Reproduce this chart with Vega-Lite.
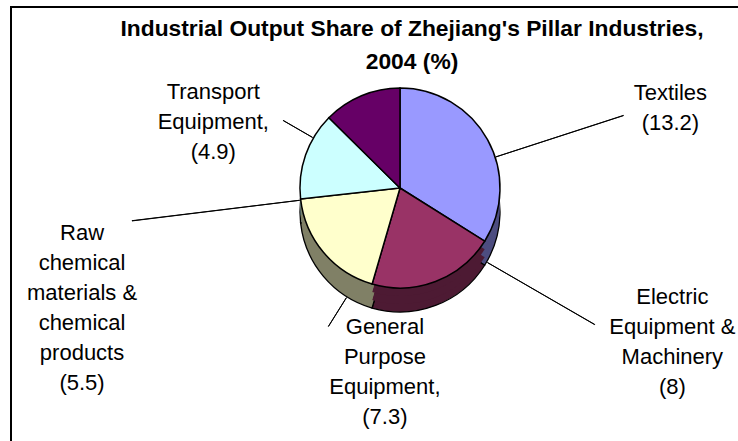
{
  "$schema": "https://vega.github.io/schema/vega-lite/v6.json",
  "width": 802,
  "height": 440,
  "autosize": {"type": "none"},
  "padding": {"left": 11, "top": 7, "right": 0, "bottom": 0},
  "background": "white",
  "config": {"view": {"stroke": null}},
  "title": {
    "text": ["Industrial Output Share of Zhejiang's Pillar Industries,", "2004 (%)"],
    "anchor": "middle",
    "frame": "group",
    "font": "Liberation Sans",
    "fontSize": 22.8,
    "fontWeight": "bold",
    "color": "black",
    "lineHeight": 33,
    "offset": -68
  },
  "data": {
    "values": [
      {"name": "Textiles", "label": "Textiles", "value": 13.2, "idx": 1},
      {"name": "Electric", "label": "Electric\nEquipment &\nMachinery", "value": 8, "idx": 2},
      {"name": "General", "label": "General\nPurpose\nEquipment,", "value": 7.3, "idx": 3},
      {"name": "Raw", "label": "Raw\nchemical\nmaterials &\nchemical\nproducts", "value": 5.5, "idx": 4},
      {"name": "Transport", "label": "Transport\nEquipment,", "value": 4.9, "idx": 5}
    ]
  },
  "transform": [{"calculate": "datum.label + '\\n(' + datum.value + ')'", "as": "text"}],
  "resolve": {"scale": {"color": "independent"}},
  "layer": [
    {
      "data": {"values": [{"frame": 1}]},
      "mark": {"type": "rect", "filled": false, "stroke": "black", "strokeWidth": 2},
      "encoding": {}
    },
    {
      "mark": {"type": "arc", "outerRadius": 100, "xOffset": -12, "yOffset": -15, "stroke": "black", "strokeWidth": 1.3},
      "encoding": {
        "theta": {"field": "value", "type": "quantitative", "stack": true},
        "order": {"field": "idx", "type": "quantitative"},
        "color": {"field": "name", "type": "nominal", "legend": null,
          "scale": {"domain": ["Textiles", "Electric", "General", "Raw", "Transport"],
                    "range": ["#4D4D80", "#4D1A33", "#808066", "#668080", "#330033"]}}
      }
    },
    {
      "mark": {"type": "arc", "outerRadius": 100, "xOffset": -12, "yOffset": -23, "strokeWidth": 0},
      "encoding": {
        "theta": {"field": "value", "type": "quantitative", "stack": true},
        "order": {"field": "idx", "type": "quantitative"},
        "color": {"field": "name", "type": "nominal", "legend": null,
          "scale": {"domain": ["Textiles", "Electric", "General", "Raw", "Transport"],
                    "range": ["#4D4D80", "#4D1A33", "#808066", "#668080", "#330033"]}}
      }
    },
    {
      "mark": {"type": "arc", "outerRadius": 100, "xOffset": -12, "yOffset": -31, "strokeWidth": 0},
      "encoding": {
        "theta": {"field": "value", "type": "quantitative", "stack": true},
        "order": {"field": "idx", "type": "quantitative"},
        "color": {"field": "name", "type": "nominal", "legend": null,
          "scale": {"domain": ["Textiles", "Electric", "General", "Raw", "Transport"],
                    "range": ["#4D4D80", "#4D1A33", "#808066", "#668080", "#330033"]}}
      }
    },
    {
      "mark": {"type": "arc", "outerRadius": 100, "xOffset": -12, "yOffset": -39, "stroke": "black", "strokeWidth": 1.5},
      "encoding": {
        "theta": {"field": "value", "type": "quantitative", "stack": true},
        "order": {"field": "idx", "type": "quantitative"},
        "color": {"field": "name", "type": "nominal", "legend": null,
          "scale": {"domain": ["Textiles", "Electric", "General", "Raw", "Transport"],
                    "range": ["#9999FF", "#993366", "#FFFFCC", "#CCFFFF", "#660066"]}}
      }
    },
    {
      "transform": [
        {"stack": "value", "groupby": [], "sort": [{"field": "idx", "order": "ascending"}], "as": ["s0", "s1"]},
        {"filter": "datum.name === 'Textiles'"}
      ],
      "mark": {"type": "arc", "innerRadius": 101, "outerRadius": 235, "thetaOffset": 1.2566, "theta2Offset": 1.2576, "xOffset": -12, "yOffset": -39, "filled": false, "stroke": "black", "strokeWidth": 1},
      "encoding": {"theta": {"field": "s0", "type": "quantitative"}, "theta2": {"field": "s0"}}
    },
    {
      "transform": [
        {"stack": "value", "groupby": [], "sort": [{"field": "idx", "order": "ascending"}], "as": ["s0", "s1"]},
        {"filter": "datum.name === 'Electric'"}
      ],
      "mark": {"type": "arc", "innerRadius": 101, "outerRadius": 225, "thetaOffset": -0.0377, "theta2Offset": -0.0367, "xOffset": -12, "yOffset": -15, "filled": false, "stroke": "black", "strokeWidth": 1},
      "encoding": {"theta": {"field": "s0", "type": "quantitative"}, "theta2": {"field": "s0"}}
    },
    {
      "transform": [
        {"stack": "value", "groupby": [], "sort": [{"field": "idx", "order": "ascending"}], "as": ["s0", "s1"]},
        {"filter": "datum.name === 'General'"}
      ],
      "mark": {"type": "arc", "innerRadius": 101, "outerRadius": 135, "thetaOffset": 0.2758, "theta2Offset": 0.2768, "xOffset": -12, "yOffset": -15, "filled": false, "stroke": "black", "strokeWidth": 1},
      "encoding": {"theta": {"field": "s0", "type": "quantitative"}, "theta2": {"field": "s0"}}
    },
    {
      "transform": [
        {"stack": "value", "groupby": [], "sort": [{"field": "idx", "order": "ascending"}], "as": ["s0", "s1"]},
        {"filter": "datum.name === 'Raw'"}
      ],
      "mark": {"type": "arc", "innerRadius": 101, "outerRadius": 270, "thetaOffset": -0.0133, "theta2Offset": -0.0123, "xOffset": -12, "yOffset": -39, "filled": false, "stroke": "black", "strokeWidth": 1},
      "encoding": {"theta": {"field": "s0", "type": "quantitative"}, "theta2": {"field": "s0"}}
    },
    {
      "transform": [
        {"stack": "value", "groupby": [], "sort": [{"field": "idx", "order": "ascending"}], "as": ["s0", "s1"]},
        {"filter": "datum.name === 'Transport'"}
      ],
      "mark": {"type": "arc", "innerRadius": 101, "outerRadius": 135, "thetaOffset": -0.2557, "theta2Offset": -0.2547, "xOffset": -12, "yOffset": -39, "filled": false, "stroke": "black", "strokeWidth": 1},
      "encoding": {"theta": {"field": "s0", "type": "quantitative"}, "theta2": {"field": "s0"}}
    },
    {
      "transform": [
        {"stack": "value", "groupby": [], "sort": [{"field": "idx", "order": "ascending"}], "as": ["s0", "s1"]},
        {"filter": "datum.name === 'Textiles'"}
      ],
      "mark": {"type": "text", "radius": 282, "thetaOffset": 1.283, "xOffset": -12, "yOffset": -39, "dy": -15, "font": "Liberation Sans", "fontSize": 22, "lineBreak": "\n", "lineHeight": 30, "align": "center", "baseline": "middle", "color": "black"},
      "encoding": {
        "theta": {"field": "s0", "type": "quantitative"},
        "text": {"field": "text"}
      }
    },
    {
      "transform": [
        {"stack": "value", "groupby": [], "sort": [{"field": "idx", "order": "ascending"}], "as": ["s0", "s1"]},
        {"filter": "datum.name === 'Electric'"}
      ],
      "mark": {"type": "text", "radius": 313, "thetaOffset": -0.046, "xOffset": -12, "yOffset": -39, "dy": -45, "font": "Liberation Sans", "fontSize": 22, "lineBreak": "\n", "lineHeight": 30, "align": "center", "baseline": "middle", "color": "black"},
      "encoding": {
        "theta": {"field": "s0", "type": "quantitative"},
        "text": {"field": "text"}
      }
    },
    {
      "transform": [
        {"stack": "value", "groupby": [], "sort": [{"field": "idx", "order": "ascending"}], "as": ["s0", "s1"]},
        {"filter": "datum.name === 'General'"}
      ],
      "mark": {"type": "text", "radius": 185, "thetaOffset": -0.201, "xOffset": -12, "yOffset": -39, "dy": -45, "font": "Liberation Sans", "fontSize": 22, "lineBreak": "\n", "lineHeight": 30, "align": "center", "baseline": "middle", "color": "black"},
      "encoding": {
        "theta": {"field": "s0", "type": "quantitative"},
        "text": {"field": "text"}
      }
    },
    {
      "transform": [
        {"stack": "value", "groupby": [], "sort": [{"field": "idx", "order": "ascending"}], "as": ["s0", "s1"]},
        {"filter": "datum.name === 'Raw'"}
      ],
      "mark": {"type": "text", "radius": 340, "thetaOffset": -0.253, "xOffset": -12, "yOffset": -39, "dy": -75, "font": "Liberation Sans", "fontSize": 22, "lineBreak": "\n", "lineHeight": 30, "align": "center", "baseline": "middle", "color": "black"},
      "encoding": {
        "theta": {"field": "s0", "type": "quantitative"},
        "text": {"field": "text"}
      }
    },
    {
      "transform": [
        {"stack": "value", "groupby": [], "sort": [{"field": "idx", "order": "ascending"}], "as": ["s0", "s1"]},
        {"filter": "datum.name === 'Transport'"}
      ],
      "mark": {"type": "text", "radius": 198, "thetaOffset": -0.440, "xOffset": -12, "yOffset": -39, "dy": -30, "font": "Liberation Sans", "fontSize": 22, "lineBreak": "\n", "lineHeight": 30, "align": "center", "baseline": "middle", "color": "black"},
      "encoding": {
        "theta": {"field": "s0", "type": "quantitative"},
        "text": {"field": "text"}
      }
    }
  ]
}
